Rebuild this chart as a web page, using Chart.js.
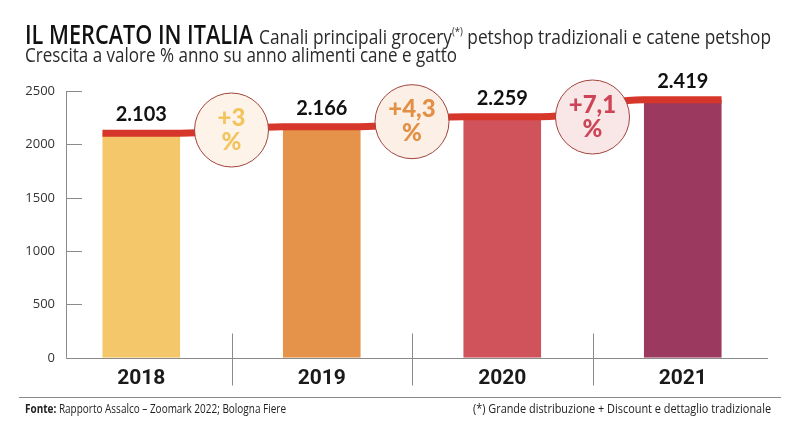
<!DOCTYPE html>
<html>
<head>
<meta charset="utf-8">
<script src="https://cdn.jsdelivr.net/npm/chart.js@4.4.1/dist/chart.umd.min.js"></script>
<style>
  html, body { margin: 0; padding: 0; background: #fff; }
  #wrap { position: relative; width: 800px; height: 426px; overflow: hidden; }
  #chart { position: absolute; left: 0; top: 0; }
  .txt { position: absolute; white-space: nowrap; font-family: "Open Sans", sans-serif; color: #2a2a2a; line-height: 1; transform-origin: 0 0; }
  #title { left: 25px; top: 20px; font-size: 27px; font-weight: 600; color: #111; }
  #sub1 { left: 259px; top: 25px; font-size: 20px; }
  #sub1 sup { font-size: 11px; vertical-align: 9px; }
  #sub2 { left: 25px; top: 45px; font-size: 20px; }
  .foot { top: 402px; font-size: 13px; color: #222; }
  #f1 { left: 25px; }
  #f2 { left: 473px; }
  #rule { position: absolute; left: 19px; right: 19px; top: 397px; height: 1px; background: #8a8a8a; }
</style>
</head>
<body>
<div id="wrap">
  <canvas id="chart" width="800" height="426"></canvas>
  <div id="title" class="txt" data-w="228">IL MERCATO IN ITALIA</div>
  <div id="sub1" class="txt" data-w="512">Canali principali grocery<sup>(*)</sup> petshop tradizionali e catene petshop</div>
  <div id="sub2" class="txt" data-w="432">Crescita a valore % anno su anno alimenti cane e gatto</div>
  <div id="rule"></div>
  <div id="f1" class="txt foot" data-w="261"><b>Fonte:</b> Rapporto Assalco – Zoomark 2022; Bologna Fiere</div>
  <div id="f2" class="txt foot" data-w="298">(*) Grande distribuzione + Discount e dettaglio tradizionale</div>
</div>
<script>
// dati (milioni di euro)
const years = ['2018', '2019', '2020', '2021'];
const marketValues = [2103, 2166, 2259, 2419];
const growthLabels = ['+3', '+4,3', '+7,1'];
const yTickValues = [0, 500, 1000, 1500, 2000, 2500];

const barColors = ['#f4c76b', '#e5924a', '#d0525b', '#9b3a5e'];
const growthColors = ['#f2c45e', '#e38f45', '#cc4456'];
const circleFills = ['#fdf3e9', '#fcefe6', '#f9e7e7'];

function fmt(v) {
  return String(v).replace(/\B(?=(\d{3})+(?!\d))/g, '.');
}

// testi stretti come nel grafico originale
function fitText() {
  document.querySelectorAll('.txt').forEach(el => {
    const w = el.getBoundingClientRect().width;
    el.style.transform = 'scaleX(' + (Number(el.dataset.w) / w) + ')';
  });
}
fitText();

// asse y, linea rossa, cerchi e etichette
const extras = {
  id: 'extras',
  beforeDatasetsDraw(chart) {
    const { ctx, chartArea } = chart;
    const y = chart.scales.y;
    const x = chart.scales.x;
    const axisX = chartArea.left + 15;
    ctx.save();
    ctx.strokeStyle = '#8a8a8a';
    ctx.lineWidth = 1;
    ctx.beginPath();
    ctx.moveTo(axisX + 0.5, y.getPixelForValue(2500));
    ctx.lineTo(axisX + 0.5, y.getPixelForValue(0));
    ctx.stroke();
    ctx.font = '13px "Open Sans", sans-serif';
    ctx.fillStyle = '#333';
    ctx.textAlign = 'right';
    ctx.textBaseline = 'middle';
    yTickValues.forEach(v => {
      const py = Math.round(y.getPixelForValue(v)) + 0.5;
      if (v > 0) {
        ctx.beginPath();
        ctx.moveTo(axisX, py);
        ctx.lineTo(axisX + 16, py);
        ctx.stroke();
      }
      ctx.fillText(String(v), axisX - 11, py);
    });
    // linea base
    const by = Math.round(y.getPixelForValue(0)) + 0.5;
    ctx.beginPath();
    ctx.moveTo(axisX, by);
    ctx.lineTo(chartArea.right - 5, by);
    ctx.stroke();
    // separatori anni
    for (let i = 0; i < years.length - 1; i++) {
      const sx = Math.round((x.getPixelForValue(i) + x.getPixelForValue(i + 1)) / 2) + 0.5;
      ctx.beginPath();
      ctx.moveTo(sx, by - 25);
      ctx.lineTo(sx, by + 27);
      ctx.stroke();
    }
    ctx.restore();
  },
  afterDatasetsDraw(chart) {
    const { ctx, chartArea } = chart;
    const bars = chart.getDatasetMeta(0).data;
    ctx.save();
    // linea rossa
    ctx.strokeStyle = '#d7372b';
    ctx.lineWidth = 7;
    ctx.lineJoin = 'round';
    ctx.beginPath();
    bars.forEach((b, i) => {
      const l = b.x - b.width / 2, r = b.x + b.width / 2;
      if (i === 0) ctx.moveTo(l, b.y); else ctx.lineTo(l, b.y);
      ctx.lineTo(r, b.y);
      const n = bars[i + 1];
      if (n) {
        const nl = n.x - n.width / 2;
        const mx = (r + nl) / 2;
        ctx.bezierCurveTo(mx, b.y, mx, n.y, nl, n.y);
      }
    });
    ctx.stroke();

    // valori sopra le barre
    ctx.fillStyle = '#111';
    ctx.font = 'bold 20px Lato, sans-serif';
    ctx.textAlign = 'center';
    ctx.textBaseline = 'alphabetic';
    bars.forEach((b, i) => ctx.fillText(fmt(marketValues[i]), b.x, b.y - 12));

    // cerchi crescita
    const rad = 37;
    growthLabels.forEach((g, i) => {
      const a = bars[i], n = bars[i + 1];
      const cx = (a.x + a.width / 2 + n.x - n.width / 2) / 2;
      const cy = Math.max((a.y + n.y) / 2, chartArea.top - 11 + rad);
      ctx.beginPath();
      ctx.arc(cx, cy, rad, 0, Math.PI * 2);
      ctx.fillStyle = circleFills[i];
      ctx.fill();
      ctx.lineWidth = 1;
      ctx.strokeStyle = '#a0443c';
      ctx.stroke();
      ctx.fillStyle = growthColors[i];
      ctx.font = '900 24px Lato, sans-serif';
      ctx.textBaseline = 'middle';
      ctx.fillText(g, cx, cy - 12);
      ctx.fillText('%', cx, cy + 12);
    });
    ctx.restore();
  }
};

new Chart(document.getElementById('chart'), {
  type: 'bar',
  data: {
    labels: years,
    datasets: [{
      data: marketValues,
      backgroundColor: barColors,
      borderWidth: 0,
      barPercentage: 0.43,
      categoryPercentage: 1
    }]
  },
  options: {
    responsive: false,
    animation: false,
    events: [],
    layout: { padding: { left: 51, right: 27, top: 91, bottom: 35 } },
    plugins: { legend: { display: false }, tooltip: { enabled: false } },
    scales: {
      x: {
        grid: { display: false },
        border: { display: false },
        ticks: {
          padding: 0,
          color: '#1a1a1a',
          font: { family: 'Roboto, sans-serif', size: 21, weight: 'bold' }
        }
      },
      y: {
        display: false,
        min: 0,
        max: 2500,
        ticks: { stepSize: 500 }
      }
    }
  },
  plugins: [extras]
});
</script>
</body>
</html>
